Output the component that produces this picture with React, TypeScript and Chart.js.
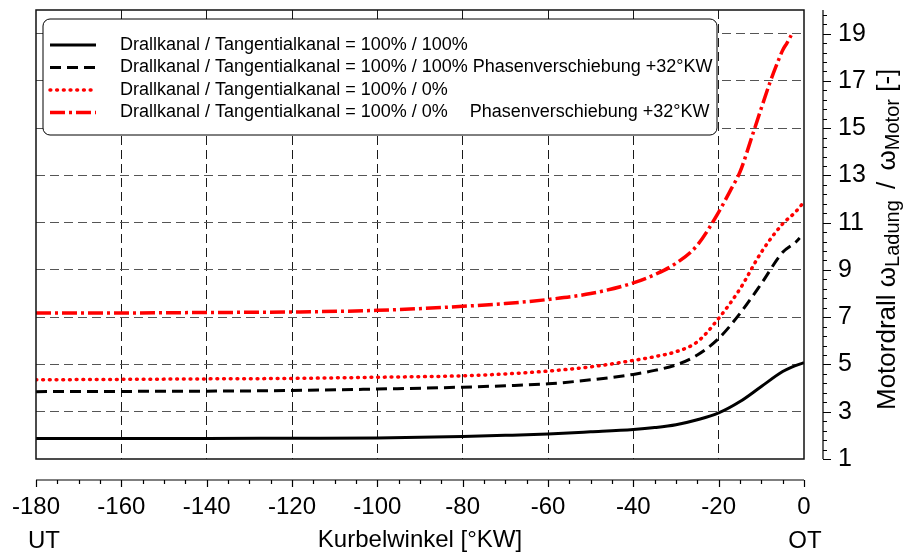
import React, { useEffect, useRef } from 'react';
import { Chart, registerables } from 'chart.js';

Chart.register(...registerables);

const FONT = '"Liberation Sans", Arial, Helvetica, sans-serif';

// ---- data (crank angle in °KW, swirl ratio) ----
const angleSolid = [-180, -160, -140, -120, -100, -80, -70, -60, -50, -40, -35, -30, -25, -20, -15, -10, -5, -3, 0];
const swirlSolid = [1.87, 1.87, 1.87, 1.88, 1.89, 1.95, 2.0, 2.06, 2.15, 2.25, 2.33, 2.45, 2.66, 2.95, 3.43, 4.07, 4.7, 4.88, 5.08];

const angleDashed = [-180, -160, -140, -120, -100, -80, -70, -60, -50, -40, -35, -30, -25, -20, -15, -10, -5, -2, -1];
const swirlDashed = [3.85, 3.86, 3.87, 3.9, 3.96, 4.04, 4.1, 4.18, 4.35, 4.58, 4.75, 4.98, 5.4, 6.1, 7.16, 8.42, 9.75, 10.17, 10.35];

const angleDotted = [-180, -160, -140, -120, -100, -80, -70, -60, -50, -40, -35, -30, -25, -20, -15, -10, -5, -2, -0.5];
const swirlDotted = [4.35, 4.37, 4.39, 4.41, 4.46, 4.52, 4.6, 4.72, 4.9, 5.17, 5.33, 5.54, 5.96, 6.95, 8.2, 9.75, 10.95, 11.45, 11.77];

const angleDashDot = [-180, -160, -140, -120, -100, -80, -70, -60, -50, -40, -35, -30, -25, -20, -17, -15, -12, -10, -8, -6, -5, -4, -3];
const swirlDashDot = [7.18, 7.18, 7.2, 7.22, 7.29, 7.46, 7.58, 7.75, 8.0, 8.45, 8.8, 9.28, 10.05, 11.45, 12.45, 13.15, 14.75, 15.85, 16.92, 17.87, 18.3, 18.6, 18.93];

const xTicks = [-180, -160, -140, -120, -100, -80, -60, -40, -20, 0];
const yTicks = [1, 3, 5, 7, 9, 11, 13, 15, 17, 19];
const X_MIN = -180;
const X_MAX = 0;
const Y_MIN = 1;
const Y_MAX = 20;

const seriesLabels = [
  'Drallkanal / Tangentialkanal = 100% / 100%',
  'Drallkanal / Tangentialkanal = 100% / 100% Phasenverschiebung +32°KW',
  'Drallkanal / Tangentialkanal = 100% / 0%',
  'Drallkanal / Tangentialkanal = 100% / 0%',
];
const legendSuffix4 = 'Phasenverschiebung +32°KW';
const xTitle = 'Kurbelwinkel [°KW]';
const xStartLabel = 'UT';
const xEndLabel = 'OT';
const yTitleParts = [
  { text: 'Motordrall ω', sub: false },
  { text: 'Ladung', sub: true },
  { text: ' / ', sub: false, pad: 4 },
  { text: 'ω', sub: false },
  { text: 'Motor', sub: true },
  { text: ' [-]', sub: false },
];

const styles = [
  { color: '#000000', dash: [] as number[], width: 3, cap: 'butt' },
  { color: '#000000', dash: [11, 6], width: 3, cap: 'butt' },
  { color: '#ff0000', dash: [0.8, 5.9], width: 3.5, cap: 'round' },
  { color: '#ff0000', dash: [15, 4, 3, 4], width: 3.5, cap: 'butt' },
];

const toPts = (xs: number[], ys: number[]) => xs.map((x, i) => ({ x, y: ys[i] }));

const decorPlugin = {
  id: 'decor',
  afterDraw(chart: any) {
    const { ctx, chartArea: ca } = chart;
    const x = chart.scales.x;
    const y = chart.scales.y;
    ctx.save();
    ctx.setLineDash([]);
    // plot frame
    ctx.strokeStyle = '#111';
    ctx.lineWidth = 1.5;
    ctx.strokeRect(ca.left, ca.top, ca.right - ca.left, ca.bottom - ca.top);

    // detached bottom axis
    const axY = ca.bottom + 21;
    ctx.lineWidth = 1.2;
    ctx.strokeStyle = '#000';
    ctx.beginPath();
    ctx.moveTo(x.getPixelForValue(X_MIN), axY);
    ctx.lineTo(x.getPixelForValue(X_MAX), axY);
    for (let v = X_MIN; v <= X_MAX; v += 5) {
      const px = Math.round(x.getPixelForValue(v)) + 0.5;
      const len = v % 20 === 0 ? 7 : 4;
      ctx.moveTo(px, axY);
      ctx.lineTo(px, axY + len);
    }
    ctx.stroke();

    // detached right axis
    const axX = ca.right + 19;
    ctx.beginPath();
    ctx.moveTo(axX, y.getPixelForValue(Y_MIN));
    ctx.lineTo(axX, y.getPixelForValue(Y_MAX));
    for (let i = 0; i <= 47; i++) {
      const v = Y_MIN + i * 0.4;
      if (v > Y_MAX + 1e-6) break;
      const py = Math.round(y.getPixelForValue(v)) + 0.5;
      const len = i % 5 === 0 ? 8 : 4;
      ctx.moveTo(axX, py);
      ctx.lineTo(axX + len, py);
    }
    ctx.stroke();

    // UT / OT
    ctx.fillStyle = '#000';
    ctx.font = `24px ${FONT}`;
    ctx.textAlign = 'center';
    ctx.textBaseline = 'middle';
    ctx.fillText(xStartLabel, x.getPixelForValue(X_MIN) + 8, 541);
    ctx.fillText(xEndLabel, x.getPixelForValue(X_MAX) + 1, 541);

    // right title with subscripts (rotated)
    ctx.save();
    ctx.translate(895, 410);
    ctx.rotate(-Math.PI / 2);
    ctx.textAlign = 'left';
    ctx.textBaseline = 'alphabetic';
    let cx = 0;
    for (const p of yTitleParts as any[]) {
      ctx.font = p.sub ? `20px ${FONT}` : `26px ${FONT}`;
      if (p.pad) cx += p.pad;
      ctx.fillText(p.text, cx, p.sub ? 4 : 0);
      cx += ctx.measureText(p.text).width + (p.pad || 0);
    }
    ctx.restore();

    // legend box
    const bx = 43, by = 19, bw = 674, bh = 116, r = 7;
    ctx.beginPath();
    ctx.moveTo(bx + r, by);
    ctx.arcTo(bx + bw, by, bx + bw, by + bh, r);
    ctx.arcTo(bx + bw, by + bh, bx, by + bh, r);
    ctx.arcTo(bx, by + bh, bx, by, r);
    ctx.arcTo(bx, by, bx + bw, by, r);
    ctx.closePath();
    ctx.fillStyle = '#fff';
    ctx.fill();
    ctx.strokeStyle = '#000';
    ctx.lineWidth = 1;
    ctx.stroke();

    ctx.font = `18px ${FONT}`;
    ctx.textAlign = 'left';
    ctx.textBaseline = 'middle';
    const rowY = [45, 67.5, 90, 112.5];
    const prefixW = ctx.measureText('Drallkanal / Tangentialkanal = 100% / 100% ').width;
    chart.data.datasets.forEach((ds: any, i: number) => {
      const yy = rowY[i];
      ctx.save();
      ctx.strokeStyle = ds.borderColor;
      ctx.lineWidth = ds.borderWidth;
      ctx.lineCap = ds.borderCapStyle;
      ctx.setLineDash(ds.borderDash);
      ctx.beginPath();
      ctx.moveTo(50, yy);
      ctx.lineTo(96, yy);
      ctx.stroke();
      ctx.restore();
      ctx.fillStyle = '#000';
      ctx.fillText(ds.label, 120, yy);
      if (i === 3) ctx.fillText(legendSuffix4, 120 + prefixW - 3, yy);
    });
    ctx.restore();
  },
};

export default function App() {
  const ref = useRef<HTMLCanvasElement | null>(null);

  useEffect(() => {
    document.body.style.margin = '0';
    const seriesX = [angleSolid, angleDashed, angleDotted, angleDashDot];
    const seriesY = [swirlSolid, swirlDashed, swirlDotted, swirlDashDot];
    const chart = new Chart(ref.current as HTMLCanvasElement, {
      type: 'line',
      data: {
        datasets: seriesLabels.map((label, i) => ({
          label,
          data: toPts(seriesX[i], seriesY[i]),
          borderColor: styles[i].color,
          backgroundColor: styles[i].color,
          borderWidth: styles[i].width,
          borderDash: styles[i].dash,
          borderCapStyle: styles[i].cap,
          pointRadius: 0,
          cubicInterpolationMode: 'monotone',
          fill: false,
        })),
      } as any,
      options: {
        animation: false,
        responsive: true,
        maintainAspectRatio: false,
        devicePixelRatio: 1,
        layout: { padding: { top: 10, left: 36, right: 0, bottom: 0 } },
        plugins: { legend: { display: false }, tooltip: { enabled: false } },
        scales: {
          x: {
            type: 'linear',
            position: 'bottom',
            min: X_MIN,
            max: X_MAX,
            afterBuildTicks: (s: any) => { s.ticks = xTicks.map((value) => ({ value })); },
            afterFit: (s: any) => { s.height = 97; },
            ticks: {
              autoSkip: false,
              maxRotation: 0,
              padding: 0,
              color: '#000',
              font: { family: FONT, size: 24 },
            },
            grid: {
              drawTicks: true,
              tickLength: 34,
              tickColor: 'rgba(0,0,0,0)',
              lineWidth: 1,
              color: (c: any) => (c.tick && (c.tick.value === X_MIN || c.tick.value === X_MAX) ? 'rgba(0,0,0,0)' : '#1a1a1a'),
            },
            border: { display: false, dash: [9, 5] },
            title: {
              display: true,
              text: xTitle,
              color: '#000',
              font: { family: FONT, size: 24 },
              padding: { top: 0, bottom: 1 },
            },
          },
          y: {
            type: 'linear',
            position: 'right',
            min: Y_MIN,
            max: Y_MAX,
            afterBuildTicks: (s: any) => { s.ticks = yTicks.map((value) => ({ value })); },
            afterFit: (s: any) => { s.width = 109; },
            ticks: {
              autoSkip: false,
              padding: 0,
              color: '#000',
              font: { family: FONT, size: 25, lineHeight: 0.7 },
            },
            grid: {
              drawTicks: true,
              tickLength: 34,
              tickColor: 'rgba(0,0,0,0)',
              lineWidth: 1,
              color: (c: any) => (c.tick && c.tick.value === Y_MIN ? 'rgba(0,0,0,0)' : '#555'),
            },
            border: { display: false, dash: [9, 5] },
          },
        },
      } as any,
      plugins: [decorPlugin],
    });
    return () => chart.destroy();
  }, []);

  return (
    <div style={{ position: 'fixed', left: 0, top: 0, width: 913, height: 556, background: '#fff' }}>
      <canvas ref={ref} />
    </div>
  );
}
